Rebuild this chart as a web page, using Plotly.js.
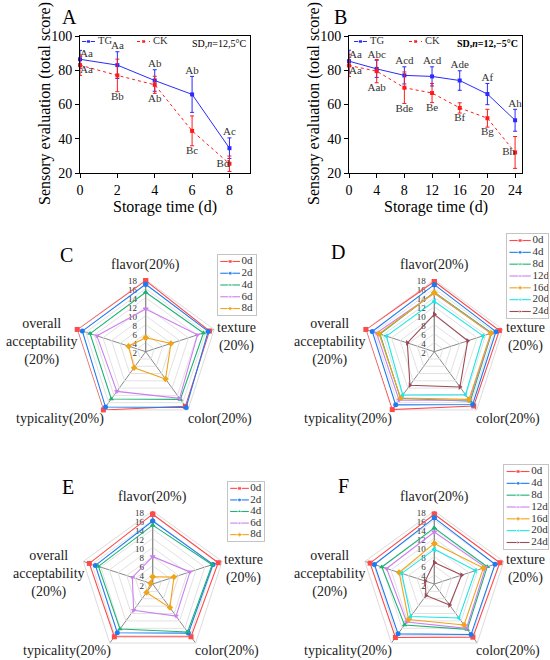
<!DOCTYPE html>
<html><head><meta charset="utf-8">
<script src="https://cdn.plot.ly/plotly-3.0.1.min.js"></script>
<style>html,body{margin:0;padding:0;background:#fff}</style>
</head><body><div id="chart" style="width:550px;height:660px"></div>
<script>
// ---------------- data ----------------
const daysA = [0, 2, 4, 6, 8];
const tgA = [86.4, 83.0, 74.0, 65.9, 34.5];
const tgA_sd = [5.2, 7.8, 6.3, 10.5, 6.0];
const ckA = [83.0, 77.0, 71.5, 44.6, 25.4];
const ckA_sd = [6.0, 9.5, 5.0, 8.7, 4.5];
const tgA_lab = ['Aa', 'Aa', 'Ab', 'Ab', 'Ac'];
const ckA_lab = ['Aa', 'Bb', 'Ab', 'Bc', 'Bd'];

const daysB = [0, 4, 8, 12, 16, 20, 24];
const tgB = [85.3, 80.8, 77.0, 76.4, 74.0, 66.1, 50.8];
const tgB_sd = [6.4, 5.0, 5.0, 5.6, 5.7, 6.2, 6.4];
const ckB = [82.8, 79.5, 69.8, 66.7, 58.0, 52.0, 32.0];
const ckB_sd = [6.5, 6.8, 9.2, 5.6, 3.0, 5.2, 9.3];
const tgB_lab = ['Aa', 'Abc', 'Acd', 'Acd', 'Ade', 'Af', 'Ah'];
const ckB_lab = ['Aa', 'Aab', 'Bde', 'Be', 'Bf', 'Bg', 'Bh'];

const groups = ['TG', 'CK'];
const attributes = ['flavor(20%)', 'texture<br>(20%)', 'color(20%)', 'typicality(20%)', 'overall<br>acceptability<br>(20%)'];
const radialTicks = [2, 4, 6, 8, 10, 12, 14, 16, 18];

const seriesC = ['0d', '2d', '4d', '6d', '8d'];
const radarC = [
  [17.8, 16.9, 17.0, 18.0, 18.0],
  [17.0, 16.6, 17.3, 17.2, 16.8],
  [15.2, 15.5, 15.1, 15.0, 15.0],
  [11.5, 14.1, 14.8, 12.9, 13.4],
  [5.1, 7.9, 9.5, 6.4, 6.0]
];
const seriesD = ['0d', '4d', '8d', '12d', '16d', '20d', '24d'];
const radarD = [
  [17.6, 17.2, 16.9, 17.9, 18.0],
  [16.9, 16.4, 16.5, 16.6, 16.5],
  [15.2, 15.4, 15.6, 14.8, 14.7],
  [15.0, 15.3, 15.3, 15.3, 15.5],
  [15.1, 15.2, 15.1, 14.7, 14.9],
  [13.2, 13.4, 13.8, 13.9, 13.2],
  [10.3, 9.8, 11.7, 11.2, 8.3]
];
const seriesE = ['0d', '2d', '4d', '6d', '8d'];
const radarE = [
  [17.3, 17.1, 16.3, 16.3, 16.6],
  [15.8, 15.9, 15.3, 15.2, 15.2],
  [14.9, 15.7, 15.0, 14.2, 14.5],
  [8.0, 10.6, 10.7, 9.1, 6.7],
  [3.6, 6.9, 8.4, 4.3, 2.5]
];
const seriesF = ['0d', '4d', '8d', '12d', '16d', '20d', '24d'];
const radarF = [
  [17.3, 17.1, 16.4, 16.5, 16.8],
  [16.5, 16.0, 15.7, 15.5, 15.8],
  [14.3, 14.2, 14.3, 13.1, 14.1],
  [13.4, 13.8, 14.0, 12.3, 13.0],
  [10.9, 13.3, 13.1, 11.6, 10.1],
  [9.6, 11.5, 11.2, 10.8, 9.5],
  [6.7, 8.3, 7.7, 5.1, 4.1]
];

// ---------------- styles ----------------
const W = 550, H = 660;
const SERIF = 'Liberation Serif';
const palette = ['#ff4a4a', '#1f7af0', '#1db374', '#cc7ff0', '#f0a418', '#1de6e6', '#9c4a55'];
const symbols = ['square', 'circle', 'triangle-up', 'triangle-down', 'diamond', 'triangle-left', 'triangle-right'];
const groupColors = ['#2a2aff', '#ff1a1a'];
const groupDash = ['solid', 'dot'];
const tgPosA = ['top right', 'top center', 'top center', 'top center', 'top center'];
const ckPosA = ['bottom right', 'bottom center', 'bottom center', 'bottom center', 'middle left'];
const tgPosB = ['top right', 'top center', 'top center', 'top center', 'top center', 'top center', 'top center'];
const ckPosB = ['bottom right', 'bottom center', 'bottom center', 'bottom center', 'bottom center', 'bottom center', 'middle left'];
// offsets (px) of the attribute labels from each radar centre
const labelOffsets = [[0, -87], [91, -15], [74, 67], [-86, 67], [-104, -10]];

const px = v => v / W, py = v => 1 - v / H;

const traces = [];
const layout = {
  width: W, height: H, margin: {l: 0, r: 0, t: 0, b: 0},
  paper_bgcolor: '#fff', plot_bgcolor: 'rgba(0,0,0,0)',
  font: {family: SERIF, color: '#222'},
  showlegend: false,
  annotations: []
};
const hidden = {showline: false, showticklabels: false, ticks: '', showgrid: false, zeroline: false, fixedrange: true};
let helperAxis = 10;

// ---------- line charts ----------
function lineChart(k, x0, x1, xr, dtick, days, tg, tgsd, ck, cksd, tgl, ckl, tgpos, ckpos, legX, sdText) {
  const xa = 'x' + (k === 1 ? '' : k), ya = 'y' + (k === 1 ? '' : k);
  [[tg, tgsd], [ck, cksd]].forEach((s, g) => {
    traces.push({type: 'scatter', x: days, y: s[0], xaxis: xa, yaxis: ya, name: groups[g],
      mode: 'lines+markers', line: {color: groupColors[g], width: 1, dash: groupDash[g]},
      marker: {symbol: 'square', size: 4, color: groupColors[g]},
      error_y: {type: 'data', array: s[1], color: groupColors[g], thickness: 1, width: 2}, cliponaxis: false});
  });
  traces.push({type: 'scatter', x: days, y: tg.map((v, i) => tgpos[i] === 'top center' ? v + tgsd[i] : v),
    xaxis: xa, yaxis: ya, mode: 'text', text: tgl, textposition: tgpos, hoverinfo: 'skip',
    textfont: {size: 11, family: SERIF, color: '#333'}, cliponaxis: false});
  traces.push({type: 'scatter', x: days, y: ck.map((v, i) => ckpos[i] === 'bottom center' ? v - cksd[i] : v),
    xaxis: xa, yaxis: ya, mode: 'text', text: ckl, textposition: ckpos, hoverinfo: 'skip',
    textfont: {size: 11, family: SERIF, color: '#333'}, cliponaxis: false});
  const axCommon = {showline: true, mirror: true, linecolor: '#000', linewidth: 1, ticks: 'outside', ticklen: 4,
    tickcolor: '#000', showgrid: false, zeroline: false, tickfont: {size: 14, family: SERIF, color: '#000'}};
  layout['xaxis' + (k === 1 ? '' : k)] = Object.assign({}, axCommon, {
    domain: [px(x0), px(x1)], range: xr, dtick: dtick, tick0: 0, anchor: ya});
  layout['yaxis' + (k === 1 ? '' : k)] = Object.assign({}, axCommon, {
    domain: [py(173), py(36)], range: [20, 100], dtick: 20, anchor: xa});
  layout.annotations.push({xref: 'paper', yref: 'paper', x: px((x0 + x1) / 2), y: py(207), xanchor: 'center', yanchor: 'middle',
    text: 'Storage time (d)', showarrow: false, font: {size: 16, family: SERIF, color: '#000'}});
  layout.annotations.push({xref: 'paper', yref: 'paper', x: px(x0 - 35), y: py(104), xanchor: 'center', yanchor: 'middle',
    text: 'Sensory evaluation (total score)', textangle: -90, showarrow: false, font: {size: 16, family: SERIF, color: '#000'}});
  layout.annotations.push({xref: 'paper', yref: 'paper', x: px(x1 - 2), y: py(43), xanchor: 'right', yanchor: 'middle',
    text: sdText, showarrow: false, font: {size: 10, family: SERIF, color: '#000'}});
  // row legend (TG / CK) on a helper axis measured in pixels
  const ax = helperAxis++, hx = 'x' + ax, hy = 'y' + ax;
  const step = 55, len = 13;
  layout['xaxis' + ax] = Object.assign({}, hidden, {domain: [px(legX), px(legX + 100)], range: [0, 100], anchor: hy});
  layout['yaxis' + ax] = Object.assign({}, hidden, {domain: [py(47), py(36)], range: [-1, 1], anchor: hx});
  groups.forEach((g, i) => {
    const s = i * step;
    traces.push({type: 'scatter', xaxis: hx, yaxis: hy, x: [s, s + len / 2, s + len], y: [0, 0, 0], mode: 'lines+markers',
      hoverinfo: 'skip', line: {color: groupColors[i], width: 1, dash: groupDash[i]},
      marker: {symbol: 'square', size: [0, 4, 0], color: groupColors[i]}, cliponaxis: false});
    traces.push({type: 'scatter', xaxis: hx, yaxis: hy, x: [s + len + 3], y: [0], text: [g], mode: 'text',
      textposition: 'middle right', hoverinfo: 'skip', cliponaxis: false,
      textfont: {size: 10.5, family: SERIF, color: '#333'}});
  });
}
lineChart(1, 80, 250, [0, 9.1], 2, daysA, tgA, tgA_sd, ckA, ckA_sd, tgA_lab, ckA_lab, tgPosA, ckPosA, 82, 'SD,<i>n</i>=12,5°C');
lineChart(2, 349, 522, [0, 25], 4, daysB, tgB, tgB_sd, ckB, ckB_sd, tgB_lab, ckB_lab, tgPosB, ckPosB, 354, '<b>SD,<i>n</i>=12,−5°C</b>');

// ---------- radar charts ----------
function radar(k, cx, cy, r, names, vals, box) {
  const pid = 'polar' + (k === 1 ? '' : k);
  vals.forEach((v, i) => {
    traces.push({type: 'scatterpolar', subplot: pid, r: v.concat([v[0]]), theta: attributes.concat([attributes[0]]),
      mode: 'lines+markers', name: names[i], cliponaxis: false,
      line: {color: palette[i], width: 1.1}, marker: {symbol: symbols[i], size: 5, color: palette[i]}});
  });
  layout[pid] = {
    domain: {x: [px(cx - r), px(cx + r)], y: [py(cy + r), py(cy - r)]},
    gridshape: 'linear', bgcolor: 'rgba(0,0,0,0)',
    radialaxis: {range: [2, 18], tickvals: radialTicks, angle: 90, side: 'counterclockwise', showline: true,
      linecolor: '#888', linewidth: 1, gridcolor: '#e2e2e2', ticks: '', layer: 'below traces',
      tickfont: {size: 9, family: SERIF, color: '#333'}},
    angularaxis: {rotation: 90, direction: 'clockwise', type: 'category', categoryarray: attributes,
      showline: true, linecolor: '#dcdcdc', gridcolor: '#8a8a8a', ticks: '', layer: 'below traces',
      showticklabels: false}
  };
  attributes.forEach((a, i) => {
    layout.annotations.push({xref: 'paper', yref: 'paper', x: px(cx + labelOffsets[i][0]), y: py(cy + labelOffsets[i][1]),
      xanchor: 'center', yanchor: 'middle', text: a, showarrow: false, align: 'center',
      font: {size: 14, family: SERIF, color: '#222'}});
  });
  // boxed legend drawn on a small helper axis pair
  const ax = helperAxis++, xa = 'x' + ax, ya = 'y' + ax;
  layout['xaxis' + ax] = Object.assign({}, hidden, {domain: [px(box[0]), px(box[2])], range: [0, 1], anchor: ya,
    showline: true, mirror: true, linecolor: '#c4c4c4', linewidth: 1});
  layout['yaxis' + ax] = Object.assign({}, hidden, {domain: [py(box[3]), py(box[1])], type: 'category', categoryarray: names,
    range: [names.length - 0.45, -0.55], anchor: xa, showline: true, mirror: true, linecolor: '#c4c4c4', linewidth: 1});
  names.forEach((n, i) => {
    traces.push({type: 'scatter', xaxis: xa, yaxis: ya, x: [0.06, 0.32, 0.58], y: [n, n, n], mode: 'lines+markers',
      hoverinfo: 'skip', line: {color: palette[i], width: 1.1},
      marker: {symbol: symbols[i], size: [0, 4, 0], color: palette[i]}});
  });
  traces.push({type: 'scatter', xaxis: xa, yaxis: ya, x: names.map(() => 0.62), y: names, text: names, mode: 'text',
    textposition: 'middle right', hoverinfo: 'skip', cliponaxis: false,
    textfont: {size: 11, family: SERIF, color: '#333'}});
}
radar(1, 145.7, 351.7, 72, seriesC, radarC, [218, 255, 256, 315]);
radar(2, 434.3, 351.7, 72, seriesD, radarD, [507, 234, 548, 318]);
radar(3, 152.7, 584, 73, seriesE, radarE, [228, 482, 264, 541]);
radar(4, 434.3, 584, 73, seriesF, radarF, [504, 465, 548, 549]);

// panel letters
[['A', 70, 17], ['B', 340, 17], ['C', 66, 255], ['D', 338, 252], ['E', 68, 487], ['F', 343, 486]].forEach(p => {
  layout.annotations.push({xref: 'paper', yref: 'paper', x: px(p[1]), y: py(p[2]), xanchor: 'center', yanchor: 'middle',
    text: p[0], showarrow: false, font: {size: 20, family: SERIF, color: '#000'}});
});

Plotly.newPlot('chart', traces, layout, {displayModeBar: false, staticPlot: true});
</script>
</body></html>
